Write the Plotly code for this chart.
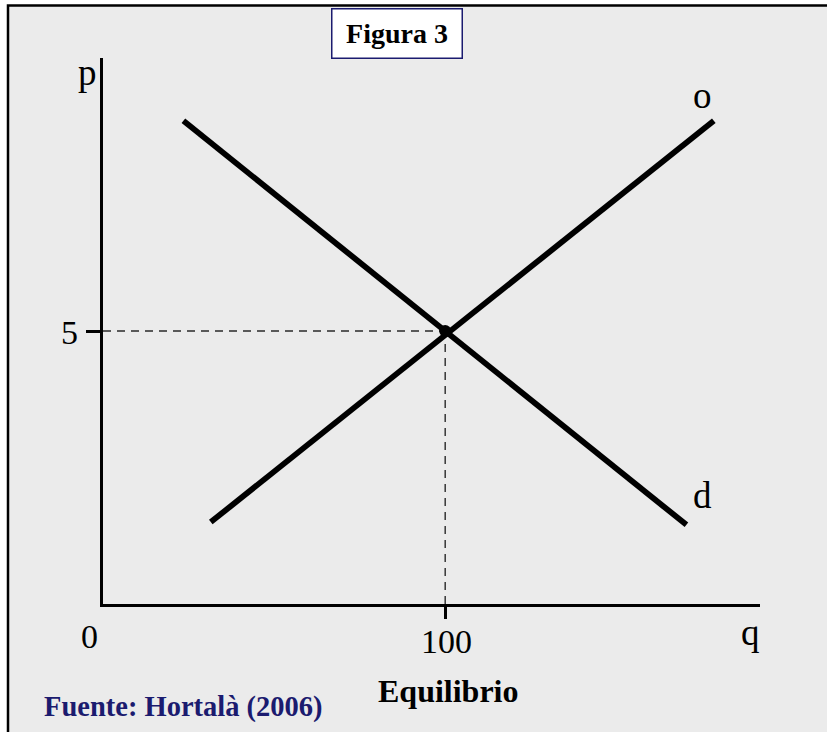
import plotly.graph_objects as go

# curva de oferta (o) y de demanda (d)
oferta_q = [31.5, 178.5]
oferta_p = [1.5, 8.85]
demanda_q = [23.5, 170.5]
demanda_p = [8.85, 1.45]

# punto de equilibrio
eq_q = [100]
eq_p = [5]

# guías punteadas
guia_h_q = [0, 100]
guia_h_p = [5, 5]
guia_v_q = [100, 100]
guia_v_p = [0, 5]

x_ticks = [100]
y_ticks = [5]

SERIF = "Liberation Serif"
NAVY = "#1b1b6f"

W, H = 827, 732
L, R, T, B = 103, 67, 58, 128
PW, PH = W - L - R, H - T - B


def px_x(px):
    return (px - L) / PW


def px_y(py):
    return (H - B - py) / PH


fig = go.Figure()

fig.add_trace(go.Scatter(x=guia_h_q, y=guia_h_p, mode="lines",
                         line=dict(color="#2a2a2a", width=1.4, dash="8px,6px")))
fig.add_trace(go.Scatter(x=guia_v_q, y=guia_v_p, mode="lines",
                         line=dict(color="#2a2a2a", width=1.4, dash="8px,6px")))
fig.add_trace(go.Scatter(x=oferta_q, y=oferta_p, mode="lines",
                         line=dict(color="black", width=5.8)))
fig.add_trace(go.Scatter(x=demanda_q, y=demanda_p, mode="lines",
                         line=dict(color="black", width=5.8)))
fig.add_trace(go.Scatter(x=eq_q, y=eq_p, mode="markers",
                         marker=dict(color="black", size=12)))

# fondo gris con borde
fig.add_shape(type="rect", xref="paper", yref="paper",
              x0=px_x(8), x1=px_x(840), y0=px_y(5.5), y1=px_y(760),
              fillcolor="#ebebeb", line=dict(color="black", width=2.5),
              layer="below")

ann = [
    dict(text="<b>Figura 3</b>", x=px_x(397), y=px_y(33.5), size=28,
         color="black", box=True),
    dict(text="<b>Equilibrio</b>", x=px_x(448), y=px_y(691), size=32,
         color="black"),
    dict(text="<b>Fuente: Hortalà (2006)</b>", x=px_x(183), y=px_y(707),
         size=28.5, color=NAVY),
    dict(text="0", x=px_x(89), y=px_y(636), size=34, color="black"),
    dict(text=str(x_ticks[0]), x=px_x(446), y=px_y(641), size=34,
         color="black"),
    dict(text=str(y_ticks[0]), x=px_x(69), y=px_y(332), size=34,
         color="black"),
    dict(text="q", x=px_x(750), y=px_y(632), size=37, color="black"),
    dict(text="p", x=px_x(87), y=px_y(72), size=37, color="black"),
    dict(text="o", x=px_x(702), y=px_y(96), size=37, color="black"),
    dict(text="d", x=px_x(702), y=px_y(495), size=37, color="black"),
]
for a in ann:
    kw = dict(text=a["text"], x=a["x"], y=a["y"], xref="paper", yref="paper",
              showarrow=False, xanchor="center", yanchor="middle",
              font=dict(family=SERIF, size=a["size"], color=a["color"]))
    if a.get("box"):
        kw.update(bgcolor="white", bordercolor=NAVY, borderwidth=1.5,
                  borderpad=0, width=129, height=48)
    fig.add_annotation(**kw)

fig.update_layout(
    width=W, height=H,
    margin=dict(l=L, r=R, t=T, b=B),
    paper_bgcolor="white",
    plot_bgcolor="rgba(0,0,0,0)",
    showlegend=False,
    xaxis=dict(range=[0, 192], showgrid=False, zeroline=False,
               showline=True, linecolor="black", linewidth=3,
               tickvals=x_ticks, showticklabels=False,
               ticks="outside", ticklen=12, tickwidth=2.5, tickcolor="black"),
    yaxis=dict(range=[0, 10], showgrid=False, zeroline=False,
               showline=True, linecolor="black", linewidth=3,
               tickvals=y_ticks, showticklabels=False,
               ticks="outside", ticklen=14, tickwidth=3, tickcolor="black"),
)

# sin margen del body para que la figura empiece en (0, 0)
fig.write_html("out.html", config={"displayModeBar": False},
               post_script="document.body.style.margin = '0';")
